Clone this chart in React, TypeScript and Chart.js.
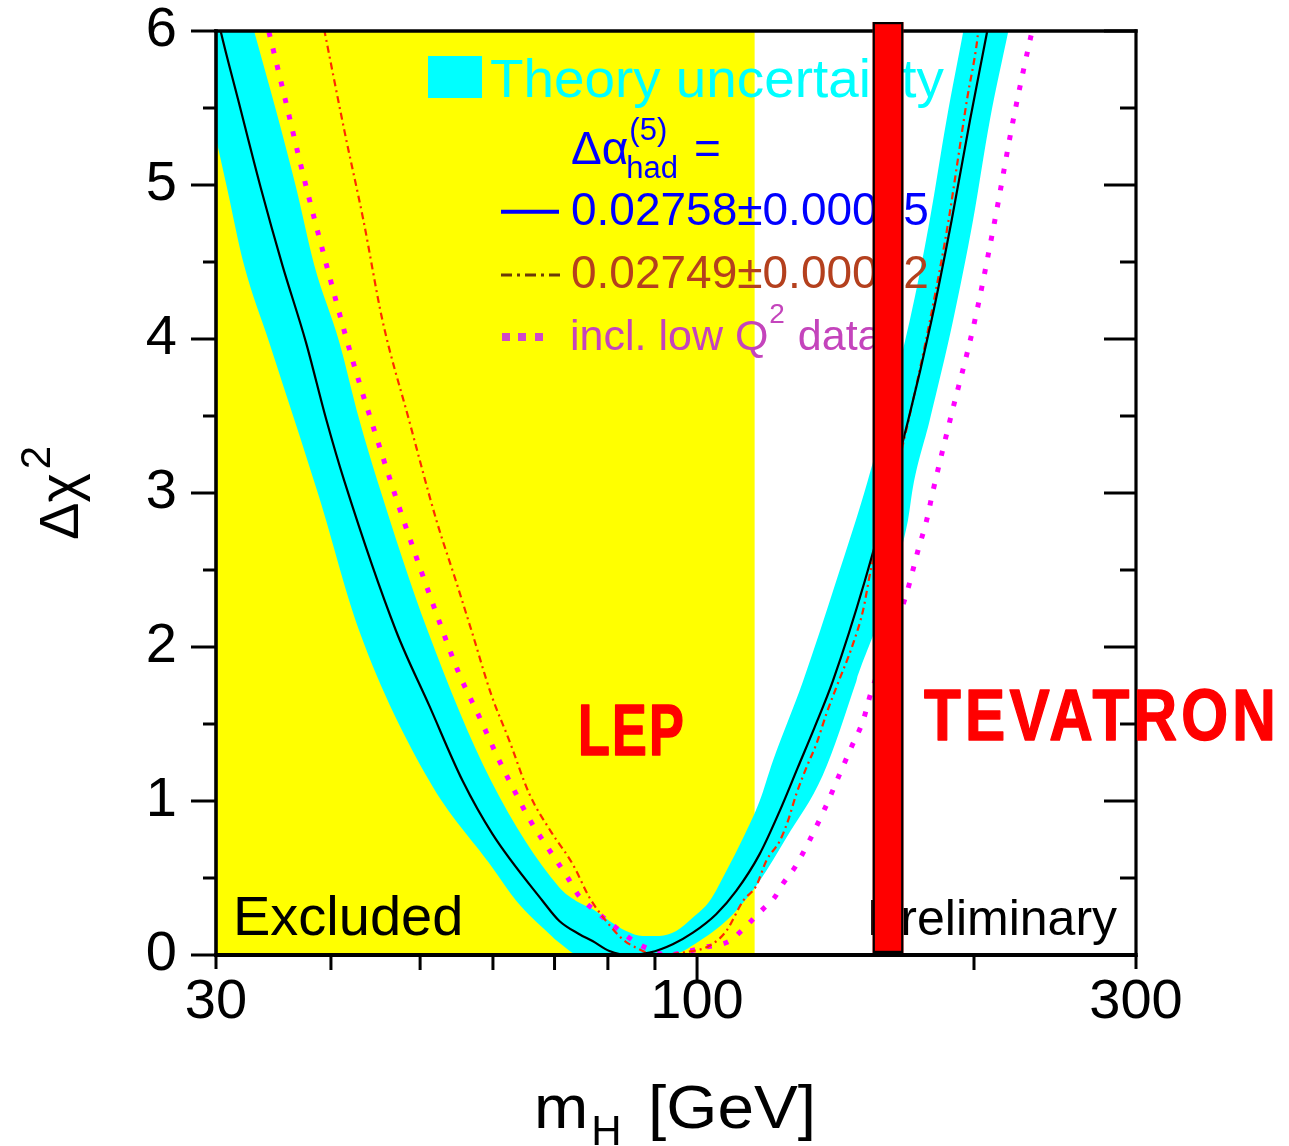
import { useEffect, useRef } from 'react';
import { Chart, registerables } from 'chart.js';

Chart.register(...registerables);

const FONT = '"Liberation Sans", Arial, Helvetica, sans-serif';

// ---- axes ----
const X_MIN = 30;
const X_MAX = 300;
const Y_MIN = 0;
const Y_MAX = 6;
const X_TICK_LABELS = [30, 100, 300];
const X_MINOR_TICKS = [40, 50, 60, 70, 80, 90, 200];
const Y_TICK_STEP = 1;
const Y_MINOR_STEP = 0.5;

// ---- regions ----
const LEP_LIMIT = 115.5; // GeV, direct search exclusion (yellow)
const TEVATRON_EXCL = [155.2, 167.6]; // GeV, red bar

// ---- fit curve: Delta alpha_had = 0.02758 +- 0.00035 (black) ----
const MH_FIT = [29.8, 30.35, 31.72, 33.56, 35.42, 37.57, 39.52, 41.35, 47.06, 51.16, 55.61, 59.94, 67.95, 70.85, 74.49, 76.98, 80.3, 84.44, 88.8, 94.1, 98.97, 104.9, 110.3, 116.96, 123.0, 128.7, 134.2, 140.5, 152.2, 169.6, 179.8, 189.1, 198.0, 206.6, 209.0];
const CHI2_FIT = [6.22, 6.0, 5.55, 4.98, 4.48, 3.98, 3.48, 3.08, 2.107, 1.619, 1.131, 0.785, 0.351, 0.221, 0.135, 0.091, 0.026, 0.0, 0.015, 0.07, 0.145, 0.265, 0.416, 0.655, 0.936, 1.218, 1.478, 1.78, 2.43, 3.47, 4.12, 4.77, 5.42, 5.99, 6.15];

// ---- theory uncertainty band (cyan) ----
const MH_BAND_HI = [29.5, 33.0, 34.84, 36.67, 38.36, 40.84, 42.92, 44.93, 50.95, 59.71, 70.85, 73.89, 77.05, 80.33, 83.75, 87.24, 91.02, 94.91, 98.96, 103.2, 107.6, 112.2, 116.96, 120.9, 130.4, 141.7, 153.3, 170.3, 179.0, 186.7, 194.6, 224.3];
const CHI2_BAND_HI = [7.07, 6.0, 5.49, 4.98, 4.48, 3.98, 3.48, 3.08, 2.107, 1.131, 0.438, 0.351, 0.297, 0.221, 0.156, 0.124, 0.124, 0.156, 0.243, 0.351, 0.546, 0.76, 1.0, 1.26, 1.78, 2.43, 3.08, 4.12, 4.77, 5.42, 5.99, 7.95];
const MH_BAND_LO = [29.5, 30.84, 32.18, 34.26, 38.8, 42.92, 51.16, 59.9, 63.63, 69.1, 70.85, 74.49, 93.34, 100.6, 109.4, 116.96, 125.1, 136.9, 149.0, 169.5, 171.7, 179.0, 189.8, 199.5, 208.1, 217.8, 224.3];
const CHI2_BAND_LO = [5.5, 4.98, 4.48, 3.98, 2.98, 2.107, 1.131, 0.568, 0.351, 0.137, 0.08, 0.0, 0.0, 0.091, 0.265, 0.481, 0.763, 1.164, 1.78, 2.82, 3.04, 3.47, 4.12, 4.77, 5.42, 5.99, 6.35];

// ---- Delta alpha_had = 0.02749 +- 0.00012 (red dash-dot) ----
const MH_ALT = [39.0, 41.41, 43.39, 45.51, 48.65, 52.1, 54.68, 57.01, 59.71, 62.52, 65.73, 69.4, 73.26, 76.39, 79.64, 83.03, 85.87, 90.29, 97.0, 103.2, 107.6, 112.2, 115.99, 118.9, 123.0, 125.55, 128.2, 131.5, 134.8, 138.2, 141.7, 147.75, 151.5, 154.7, 164.1, 174.6, 183.6, 187.9, 191.7, 196.6, 201.3, 203.0];
const CHI2_ALT = [6.12, 5.34, 4.77, 4.12, 3.47, 2.82, 2.43, 2.085, 1.695, 1.391, 1.045, 0.8, 0.59, 0.373, 0.221, 0.102, 0.047, 0.0, 0.018, 0.06, 0.156, 0.351, 0.45, 0.611, 0.741, 0.871, 1.045, 1.218, 1.37, 1.565, 1.738, 2.02, 2.237, 2.52, 3.1, 3.8, 4.45, 4.79, 5.13, 5.56, 5.91, 6.1];

// ---- incl. low Q^2 data (magenta dotted) ----
const MH_LOWQ2 = [33.9, 34.26, 35.66, 37.09, 38.57, 42.05, 45.68, 47.43, 52.89, 55.14, 57.98, 60.97, 63.32, 65.73, 69.1, 72.34, 74.18, 78.33, 83.39, 85.87, 88.78, 92.64, 96.5, 101.9, 108.5, 111.7, 115.0, 118.4, 121.4, 124.2, 127.7, 137.6, 142.9, 147.1, 151.5, 154.4, 168.9, 173.9, 177.6, 180.6, 188.3, 200.4, 210.7, 220.6, 231.1, 233.5];
const CHI2_LOWQ2 = [6.1, 5.99, 5.56, 5.13, 4.73, 3.9, 3.21, 2.91, 2.107, 1.825, 1.547, 1.261, 1.066, 0.882, 0.681, 0.503, 0.395, 0.265, 0.135, 0.08, 0.037, 0.0, 0.015, 0.05, 0.091, 0.156, 0.232, 0.308, 0.373, 0.47, 0.568, 0.947, 1.175, 1.348, 1.521, 1.695, 2.345, 2.63, 2.82, 3.02, 3.47, 4.12, 4.77, 5.42, 5.99, 6.1];

function pts(ms: number[], cs: number[]) {
  return ms.map((m, i) => ({ x: m, y: cs[i] }));
}

function seg(ctx: CanvasRenderingContext2D, x1: number, y1: number, x2: number, y2: number, w: number) {
  ctx.lineWidth = w;
  ctx.beginPath();
  ctx.moveTo(x1, y1);
  ctx.lineTo(x2, y2);
  ctx.stroke();
}

function text(
  ctx: CanvasRenderingContext2D,
  s: string,
  x: number,
  y: number,
  size: number,
  color: string,
  opt: { bold?: boolean; width?: number; sx?: number; spacing?: number } = {}
) {
  ctx.save();
  ctx.font = `${opt.bold ? 'bold ' : ''}${size}px ${FONT}`;
  const anyCtx = ctx as any;
  if (opt.spacing) anyCtx.letterSpacing = `${opt.spacing}px`;
  ctx.fillStyle = color;
  ctx.textAlign = 'left';
  ctx.textBaseline = 'alphabetic';
  const w = ctx.measureText(s).width;
  let sx = opt.sx ?? 1;
  if (opt.width) sx = opt.width / w;
  ctx.translate(x, y);
  ctx.scale(sx, 1);
  ctx.fillText(s, 0, 0);
  if (opt.bold) {
    ctx.strokeStyle = color;
    ctx.lineJoin = 'round';
    ctx.lineWidth = 1.5;
    ctx.strokeText(s, 0, 0);
  }
  ctx.restore();
  return w * sx;
}

const overlay = {
  id: 'lepOverlay',
  beforeDatasetsDraw(chart: any) {
    const { ctx, scales } = chart;
    const xs = scales.x;
    const ys = scales.y;
    const x0 = xs.getPixelForValue(X_MIN);
    const x1 = xs.getPixelForValue(LEP_LIMIT);
    const yt = ys.getPixelForValue(Y_MAX);
    const yb = ys.getPixelForValue(Y_MIN);
    ctx.save();
    ctx.fillStyle = '#ffff00';
    ctx.fillRect(x0, yt, x1 - x0, yb - yt);
    ctx.restore();
  },
  afterDatasetsDraw(chart: any) {
    const { ctx, chartArea: ca, scales } = chart;
    const xs = scales.x;
    const ys = scales.y;
    const L = ca.left;
    const R = ca.right;
    const T = ca.top;
    const B = ca.bottom;

    ctx.save();
    ctx.strokeStyle = '#000';
    ctx.lineCap = 'butt';
    // frame
    seg(ctx, L, T - 1.7, L, B + 2, 3.6);
    seg(ctx, L - 1.8, B, R + 1.6, B, 3.8);
    seg(ctx, L - 1.8, T, R + 1.6, T, 3.4);
    seg(ctx, R, T - 1.7, R, B + 2, 3.2);

    // y ticks: left outward, right inward
    for (let v = Y_MIN; v <= Y_MAX + 1e-9; v += Y_MINOR_STEP) {
      const py = ys.getPixelForValue(v);
      const major = Math.abs(v / Y_TICK_STEP - Math.round(v / Y_TICK_STEP)) < 1e-6;
      seg(ctx, L, py, L - (major ? 25 : 13), py, 3);
      seg(ctx, R, py, R - (major ? 32 : 16), py, 3);
    }
    // x ticks: outward
    X_MINOR_TICKS.forEach((m) => {
      const px = xs.getPixelForValue(m);
      seg(ctx, px, B, px, B + 15, 3);
    });
    X_TICK_LABELS.forEach((m) => {
      const px = xs.getPixelForValue(m);
      const len = m === 100 ? 27 : 14;
      seg(ctx, px, B, px, B + len, 3);
    });
    ctx.restore();

    // ---- legend ----
    ctx.save();
    ctx.fillStyle = '#00ffff';
    ctx.fillRect(L + 212, T + 25, 54, 42);
    ctx.restore();
    text(ctx, 'Theory uncertainty', L + 274, T + 66, 54, '#00ffff', { sx: 1.015 });

    const blue = '#0000ff';
    const wDa = text(ctx, 'Δα', L + 355, T + 132.5, 46, blue);
    text(ctx, '(5)', L + 355 + wDa + 1, T + 109, 31, blue);
    text(ctx, 'had', L + 355 + wDa - 2, T + 147, 31, blue);
    text(ctx, '=', L + 478, T + 132.5, 46, blue);

    ctx.save();
    ctx.strokeStyle = blue;
    ctx.lineCap = 'butt';
    seg(ctx, L + 285, T + 180.7, L + 343, T + 180.7, 4);
    ctx.restore();
    text(ctx, '0.02758±0.00035', L + 355, T + 194, 46, blue);

    ctx.save();
    ctx.strokeStyle = '#6a3a08';
    ctx.setLineDash([11, 5, 3, 5]);
    seg(ctx, L + 285, T + 244, L + 344, T + 244, 3);
    ctx.restore();
    text(ctx, '0.02749±0.00012', L + 355, T + 257, 46, '#b4401e');

    ctx.save();
    ctx.fillStyle = '#d048c8';
    [290, 306, 323].forEach((dx) => ctx.fillRect(L + dx - 4, T + 302, 8, 8));
    ctx.restore();
    const magText = '#c444bc';
    const wq = text(ctx, 'incl. low Q', L + 354, T + 319, 43, magText);
    const w2 = text(ctx, '2', L + 354 + wq + 1, T + 292, 28, magText);
    text(ctx, ' data', L + 354 + wq + w2 + 2, T + 319, 43, magText);

    // ---- in-plot labels ----
    text(ctx, 'Excluded', L + 17, B - 20, 56, '#000');
    text(ctx, 'Preliminary', L + 651, B - 20, 50, '#000');

    // ---- TEVATRON exclusion bar ----
    const bx0 = xs.getPixelForValue(TEVATRON_EXCL[0]);
    const bx1 = xs.getPixelForValue(TEVATRON_EXCL[1]);
    const byTop = ys.getPixelForValue(Y_MAX) - 9;
    const byBot = ys.getPixelForValue(Y_MIN) - 2;
    ctx.save();
    ctx.fillStyle = '#ff0000';
    ctx.fillRect(bx0, byTop, bx1 - bx0, byBot - byTop);
    ctx.strokeStyle = '#000';
    ctx.lineWidth = 2.2;
    ctx.strokeRect(bx0 + 1.1, byTop + 1.1, bx1 - bx0 - 2.2, byBot - byTop - 2.2);
    ctx.restore();

    text(ctx, 'LEP', L + 362, B - 200, 72, '#ff0000', { bold: true, width: 108, spacing: 3 });
    text(ctx, 'TEVATRON', L + 708, B - 215, 72, '#ff0000', { bold: true, width: 356, spacing: 5 });

    // ---- axis titles ----
    ctx.save();
    ctx.translate(L - 138, B - 415);
    ctx.rotate(-Math.PI / 2);
    ctx.fillStyle = '#000';
    ctx.font = `56px ${FONT}`;
    ctx.textBaseline = 'alphabetic';
    ctx.fillText('Δχ', 0, 0);
    const wy = ctx.measureText('Δχ').width;
    ctx.font = `42px ${FONT}`;
    ctx.fillText('2', wy + 4, -28);
    ctx.restore();

    const wm = text(ctx, 'm', L + 318, B + 173, 62, '#000', { sx: 1.05 });
    text(ctx, 'H', L + 318 + wm + 3, B + 190, 42, '#000');
    text(ctx, '[GeV]', L + 432, B + 173, 62, '#000', { sx: 1.06 });
  },
};

export default function App() {
  const ref = useRef<HTMLCanvasElement>(null);

  useEffect(() => {
    const canvas = ref.current;
    if (!canvas) return;
    const chart = new Chart(canvas, {
      type: 'line',
      data: {
        datasets: [
          {
            label: 'fit 0.02758',
            data: pts(MH_FIT, CHI2_FIT),
            borderColor: '#000000',
            borderWidth: 2.2,
            fill: false,
            order: 1,
          },
          {
            label: '0.02749',
            data: pts(MH_ALT, CHI2_ALT),
            borderColor: '#ff2a00',
            borderWidth: 2.2,
            borderDash: [7, 4, 2, 4],
            fill: false,
            order: 2,
          },
          {
            label: 'incl. low Q2',
            data: pts(MH_LOWQ2, CHI2_LOWQ2),
            borderColor: '#ff00ff',
            borderWidth: 5,
            borderDash: [5, 12],
            borderCapStyle: 'butt',
            fill: false,
            order: 3,
          },
          {
            label: 'band hi',
            data: pts(MH_BAND_HI, CHI2_BAND_HI),
            borderColor: 'rgba(0,0,0,0)',
            borderWidth: 0,
            backgroundColor: '#00ffff',
            fill: '+1',
            order: 10,
          },
          {
            label: 'band lo',
            data: pts(MH_BAND_LO, CHI2_BAND_LO),
            borderColor: 'rgba(0,0,0,0)',
            borderWidth: 0,
            backgroundColor: '#00ffff',
            fill: false,
            order: 11,
          },
        ],
      },
      options: {
        animation: false,
        responsive: false,
        devicePixelRatio: 1,
        events: [],
        layout: { padding: { left: 0, top: 31, right: 153, bottom: 0 } },
        elements: {
          point: { radius: 0 },
          line: { cubicInterpolationMode: 'monotone' },
        },
        plugins: {
          legend: { display: false },
          tooltip: { enabled: false },
        },
        scales: {
          x: {
            type: 'logarithmic',
            min: X_MIN,
            max: X_MAX,
            grid: { display: false, drawTicks: false },
            border: { display: false },
            afterBuildTicks: (s: any) => {
              s.ticks = X_TICK_LABELS.map((v) => ({ value: v }));
            },
            afterFit: (s: any) => {
              s.height = 191;
              s.paddingLeft = 0;
              s.paddingRight = 0;
            },
            ticks: {
              autoSkip: false,
              maxRotation: 0,
              minRotation: 0,
              padding: 14,
              color: '#000',
              font: { family: FONT, size: 56 },
              callback: (v: any) => String(v),
            },
          },
          y: {
            type: 'linear',
            min: Y_MIN,
            max: Y_MAX,
            grid: { display: false, drawTicks: false },
            border: { display: false },
            afterFit: (s: any) => {
              s.width = 216;
              s.paddingTop = 0;
              s.paddingBottom = 0;
            },
            ticks: {
              stepSize: Y_TICK_STEP,
              padding: 39,
              color: '#000',
              font: { family: FONT, size: 56 },
            },
          },
        },
      },
      plugins: [overlay],
    } as any);
    return () => chart.destroy();
  }, []);

  return (
    <div style={{ position: 'fixed', left: 0, top: 0, width: 1289, height: 1146, background: '#ffffff' }}>
      <canvas ref={ref} width={1289} height={1146} style={{ display: 'block', width: 1289, height: 1146 }} />
    </div>
  );
}
